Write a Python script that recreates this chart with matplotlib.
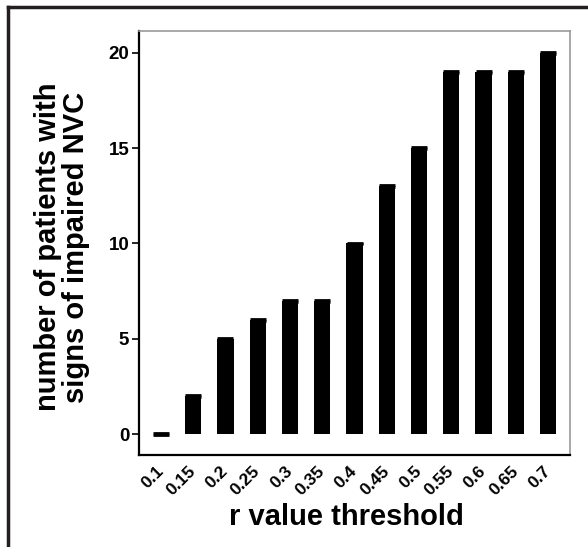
import numpy as np
import matplotlib.pyplot as plt
from matplotlib.lines import Line2D

# data
thresholds = ['0.1', '0.15', '0.2', '0.25', '0.3', '0.35', '0.4',
              '0.45', '0.5', '0.55', '0.6', '0.65', '0.7']
patients = [0, 2, 5, 6, 7, 7, 10, 13, 15, 19, 19, 19, 20]
err = [0.05] * len(patients)

plt.rcParams['font.family'] = ['Liberation Sans', 'DejaVu Sans']
plt.rcParams['font.weight'] = 'bold'

fig = plt.figure(figsize=(5.88, 5.47), dpi=100)
ax = fig.add_axes([139 / 588, 1 - 455 / 547, (570 - 139) / 588, (455 - 31) / 547])

x = np.arange(len(thresholds))
ax.bar(x, patients, width=0.5, color='black')
ax.errorbar(x, patients, yerr=err, fmt='none', ecolor='black',
            elinewidth=1, capsize=5.5, capthick=2)

ax.set_xlim(-0.68, 12.68)
ax.set_ylim(-1.1, 21.15)
ax.set_yticks([0, 5, 10, 15, 20])
ax.set_xticks(x)
ax.set_xticklabels(thresholds, rotation=45, ha='right', va='center',
                   rotation_mode='anchor', fontsize=12.5, fontweight='bold')
ax.tick_params(axis='x', length=0, pad=10)
ax.tick_params(axis='y', length=5, width=1.2, direction='out', labelsize=13.5, pad=2)
for lab in ax.get_yticklabels():
    lab.set_fontweight('bold')

ax.spines['left'].set_linewidth(1.6)
ax.spines['bottom'].set_linewidth(1.6)
ax.spines['top'].set_color('#999999')
ax.spines['right'].set_color('#999999')
ax.spines['top'].set_linewidth(1.2)
ax.spines['right'].set_linewidth(1.2)

ax.set_ylabel('number of patients with\nsigns of impaired NVC', fontsize=21,
              fontweight='bold', linespacing=1.0, va='center')
ax.yaxis.set_label_coords(-0.179, 0.49)
ax.set_xlabel('r value threshold', fontsize=21, fontweight='bold', va='center')
ax.xaxis.set_label_coords(0.481, -0.146)

# frame around the figure (left and top only)
fig.add_artist(Line2D([8 / 588, 8 / 588], [0, 1 - 7 / 547], color='#231f20', lw=2.5))
fig.add_artist(Line2D([8 / 588, 1], [1 - 7 / 547, 1 - 7 / 547], color='#231f20', lw=2.5))

fig.savefig('out.png', dpi=100)
